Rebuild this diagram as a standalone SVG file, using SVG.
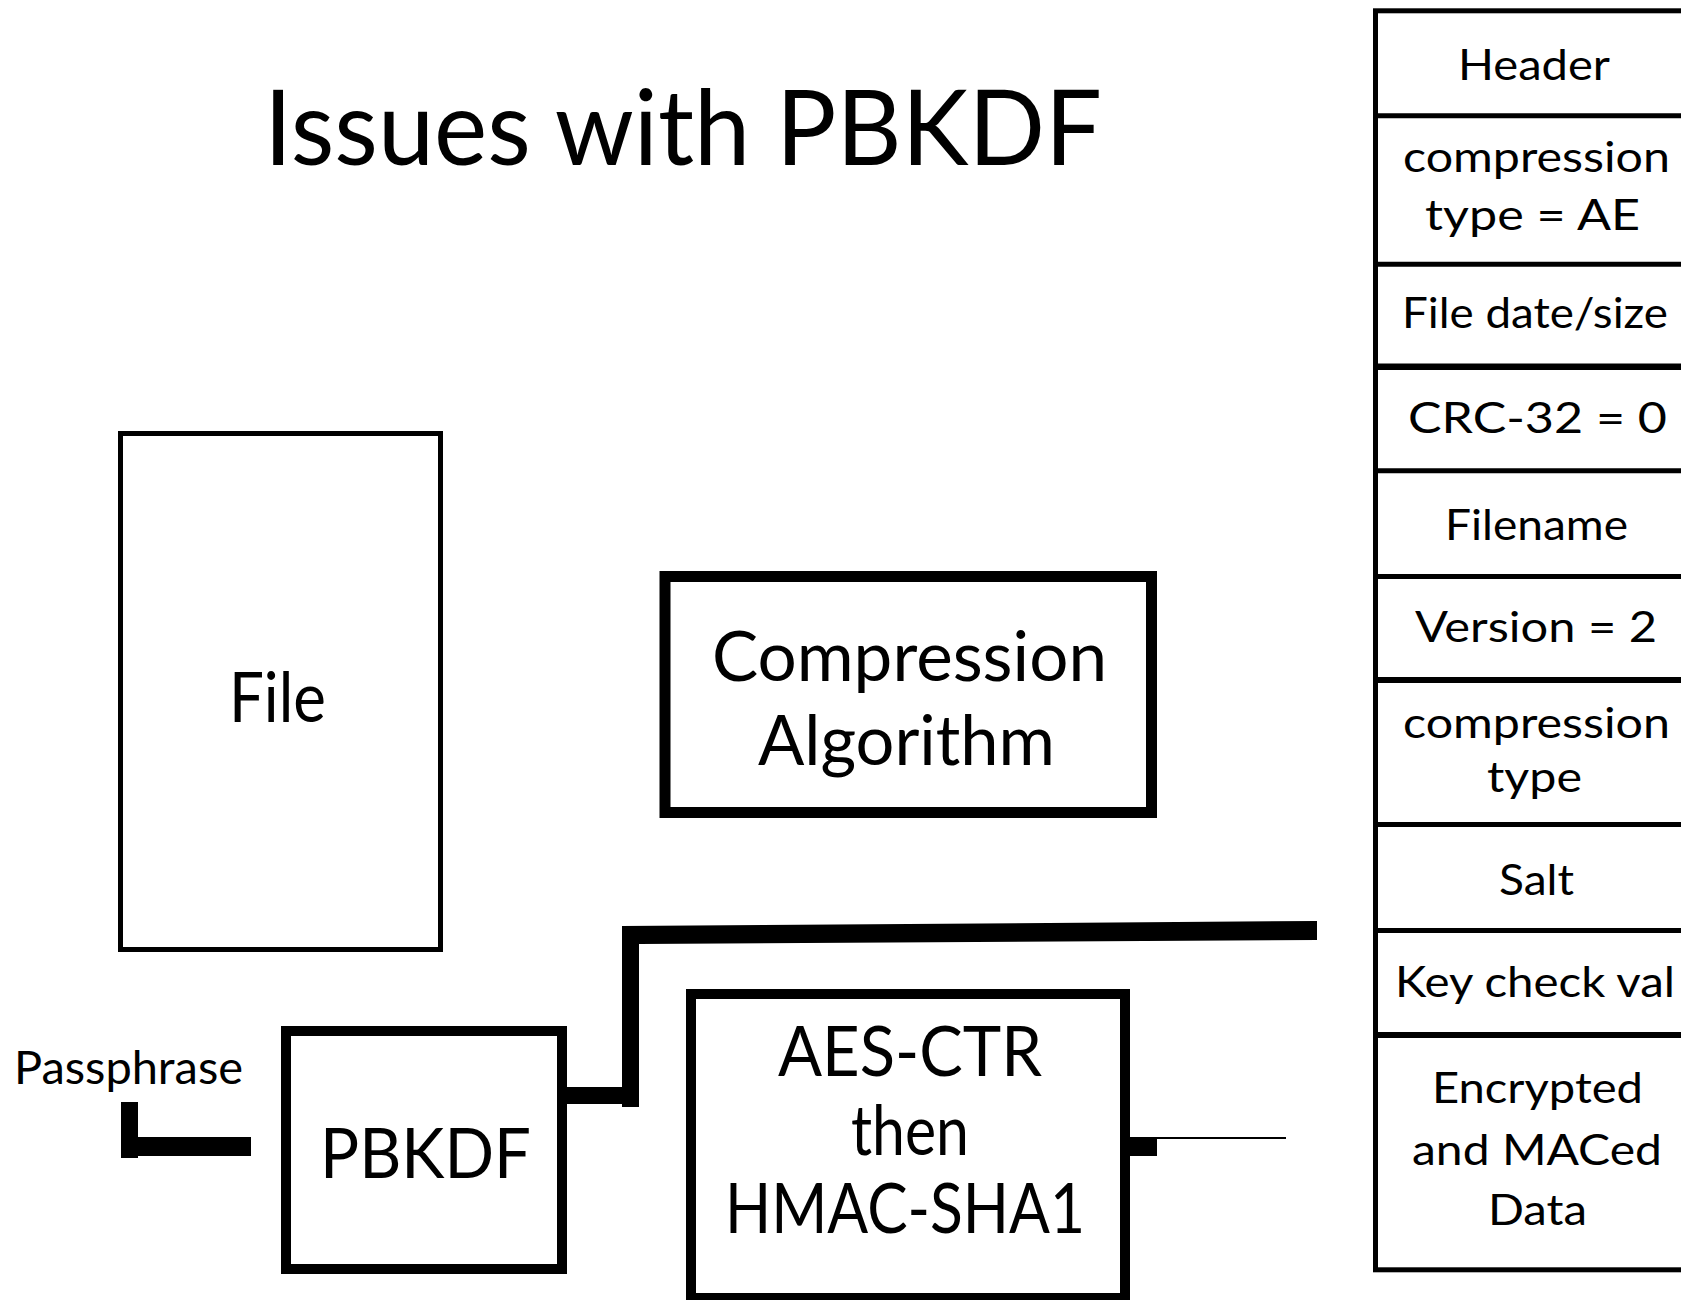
<svg xmlns="http://www.w3.org/2000/svg" width="1681" height="1300" viewBox="0 0 1681 1300">
  <style>
    text { font-family: Lato, "Liberation Sans", sans-serif; fill: #000; text-anchor: middle; }
    .title { font-size: 105px; }
    .big { font-size: 70px; }
    .cell { font-size: 42px; }
    .small { font-size: 46px; text-anchor: start; }
    .box { fill: #fff; stroke: #000; }
    .wire { fill: #000; stroke: none; }
  </style>
  <rect width="1681" height="1300" fill="#fff"/>

  <text class="title" x="683" y="165" textLength="838" lengthAdjust="spacingAndGlyphs">Issues with PBKDF</text>

  <!-- connectors -->
  <g id="connectors">
    <polygon class="wire" points="121,1102 138,1102 138,1137 251,1137 251,1156 138,1156 138,1158 121,1158"/>
    <polygon class="wire" points="567,1087 622,1087 622,926 1317,921 1317,940 639,944 639,1107 622,1107 622,1104 567,1104"/>
    <rect class="wire" x="1125" y="1137" width="32" height="19"/>
    <line x1="1156" y1="1138" x2="1286" y2="1138" stroke="#000" stroke-width="2"/>
  </g>

  <g id="file">
    <rect class="box" x="120.5" y="433.5" width="320" height="516" stroke-width="5"/>
    <text class="big" x="277.5" y="722" textLength="97" lengthAdjust="spacingAndGlyphs">File</text>
  </g>

  <g id="compression">
    <rect class="box" x="665" y="576.5" width="486.5" height="236" stroke-width="11"/>
    <text class="big" x="909.5" y="681" textLength="395" lengthAdjust="spacingAndGlyphs">Compression</text>
    <text class="big" x="906.5" y="765" textLength="297" lengthAdjust="spacingAndGlyphs">Algorithm</text>
  </g>

  <g id="passphrase">
    <text class="small" x="14" y="1084" textLength="229" lengthAdjust="spacingAndGlyphs">Passphrase</text>
  </g>

  <g id="pbkdf">
    <rect class="box" x="286" y="1031" width="276" height="238" stroke-width="10"/>
    <text class="big" x="425.5" y="1178" textLength="211" lengthAdjust="spacingAndGlyphs">PBKDF</text>
  </g>

  <g id="aes">
    <rect class="box" x="691" y="994" width="434" height="304" stroke-width="10"/>
    <text class="big" x="910" y="1076" textLength="264" lengthAdjust="spacingAndGlyphs">AES-CTR</text>
    <text class="big" x="910" y="1155" textLength="118" lengthAdjust="spacingAndGlyphs">then</text>
    <text class="big" x="905" y="1233" textLength="360" lengthAdjust="spacingAndGlyphs">HMAC-SHA1</text>
  </g>

  <!-- archive entry layout -->
  <g id="archive">
    <rect class="box" x="1375.5" y="10.8" width="340" height="1259" stroke-width="5"/>
    <g stroke="#000" stroke-width="5">
      <line x1="1373" y1="115.8" x2="1681" y2="115.8"/>
      <line x1="1373" y1="264.2" x2="1681" y2="264.2"/>
      <line x1="1373" y1="366.7" x2="1681" y2="366.7" stroke-width="6.5"/>
      <line x1="1373" y1="470.8" x2="1681" y2="470.8"/>
      <line x1="1373" y1="576.5" x2="1681" y2="576.5"/>
      <line x1="1373" y1="680" x2="1681" y2="680" stroke-width="6"/>
      <line x1="1373" y1="824.5" x2="1681" y2="824.5"/>
      <line x1="1373" y1="930.5" x2="1681" y2="930.5"/>
      <line x1="1373" y1="1035" x2="1681" y2="1035" stroke-width="6"/>
    </g>
    <text class="cell" x="1534" y="80" textLength="152" lengthAdjust="spacingAndGlyphs">Header</text>
    <text class="cell" x="1536.5" y="172" textLength="267" lengthAdjust="spacingAndGlyphs">compression</text>
    <text class="cell" x="1532.5" y="230" textLength="215" lengthAdjust="spacingAndGlyphs">type = AE</text>
    <text class="cell" x="1535" y="328" textLength="266" lengthAdjust="spacingAndGlyphs">File date/size</text>
    <text class="cell" x="1537.5" y="433" textLength="259" lengthAdjust="spacingAndGlyphs">CRC-32 = 0</text>
    <text class="cell" x="1536.5" y="540" textLength="183" lengthAdjust="spacingAndGlyphs">Filename</text>
    <text class="cell" x="1536" y="642" textLength="242" lengthAdjust="spacingAndGlyphs">Version = 2</text>
    <text class="cell" x="1536.5" y="738" textLength="267" lengthAdjust="spacingAndGlyphs">compression</text>
    <text class="cell" x="1534.5" y="792" textLength="95" lengthAdjust="spacingAndGlyphs">type</text>
    <text class="cell" x="1536.5" y="895" textLength="75" lengthAdjust="spacingAndGlyphs">Salt</text>
    <text class="cell" x="1535" y="997" textLength="280" lengthAdjust="spacingAndGlyphs">Key check val</text>
    <text class="cell" x="1537.5" y="1103" textLength="211" lengthAdjust="spacingAndGlyphs">Encrypted</text>
    <text class="cell" x="1537" y="1165" textLength="250" lengthAdjust="spacingAndGlyphs">and MACed</text>
    <text class="cell" x="1537.5" y="1225" textLength="99" lengthAdjust="spacingAndGlyphs">Data</text>
  </g>
</svg>
